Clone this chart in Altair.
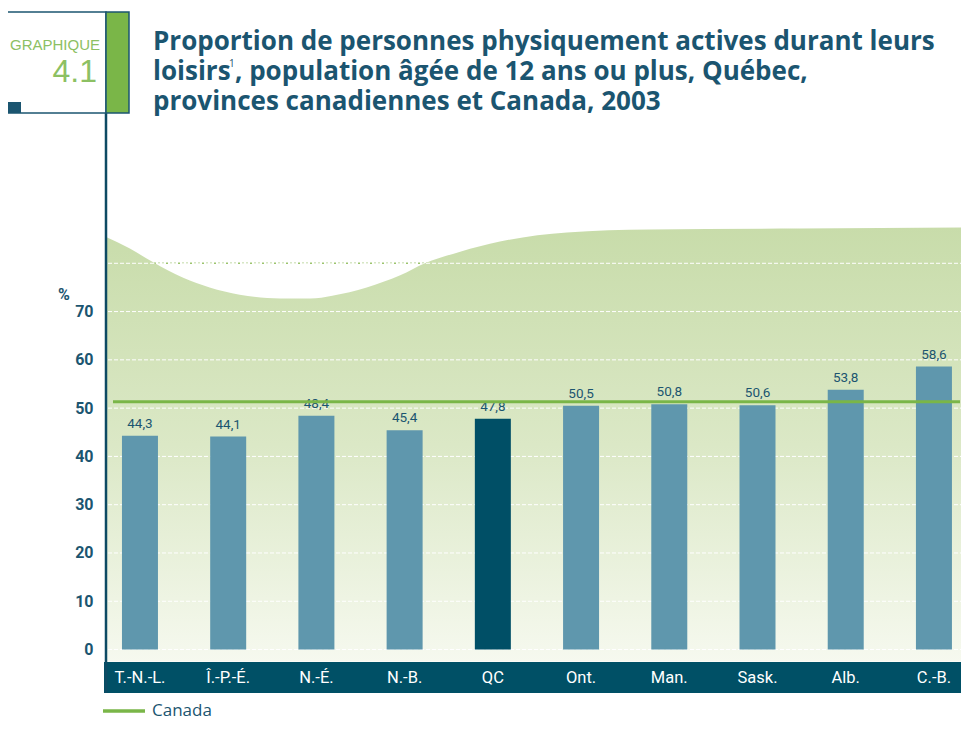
import altair as alt
import pandas as pd

# ---- data ----
provinces = ["T.-N.-L.", "Î.-P.-É.", "N.-É.", "N.-B.", "QC", "Ont.", "Man.", "Sask.", "Alb.", "C.-B."]
values = [44.3, 44.1, 48.4, 45.4, 47.8, 50.5, 50.8, 50.6, 53.8, 58.6]
canada = 51.3
y_ticks = [0, 10, 20, 30, 40, 50, 60, 70]
grid_values = [0, 10, 20, 30, 40, 50, 60, 70, 80]
# decorative wave at top of background (position along category axis, value)
wave_x = [-0.39, -0.12, 0.15, 0.49, 0.79, 1.13, 1.59, 1.93, 2.18, 2.57, 2.95, 3.23, 3.63, 4.08, 4.84, 5.78, 7.48, 9.39]
wave_y = [85.5, 83.1, 80.2, 77.0, 75.0, 73.5, 72.7, 72.7, 73.3, 75.0, 77.5, 80.0, 82.4, 84.5, 86.4, 87.0, 87.2, 87.4]

TEAL = "#1b5570"
DARK = "#004f66"
BAR = "#5f97ad"
GREEN = "#7ab648"
NARROW = "Roboto"
STEP = 88.22
W, H = 855, 478
X0 = -0.385

df = pd.DataFrame({
    "province": provinces,
    "idx": list(range(len(provinces))),
    "v": values,
    "label": [f"{v:.1f}".replace(".", ",") for v in values],
})
wave = pd.DataFrame({"idx": wave_x, "v": wave_y})
grid = pd.DataFrame({"v": grid_values})

yscale = alt.Scale(domain=[-9, 90], nice=False, zero=False, padding=0)
yaxis = alt.Axis(values=y_ticks, title=None, domain=False, ticks=False, grid=False,
                 labelFont=NARROW, labelFontSize=16, labelFontWeight="bold",
                 labelColor=TEAL, labelPadding=13)
Y = alt.Y("v:Q", scale=yscale, axis=yaxis)
X = alt.X("idx:Q", title=None, axis=None,
          scale=alt.Scale(domain=[X0, X0 + W / STEP], nice=False, zero=False, padding=0))

one = pd.DataFrame({"a": [0]})

def txt(x, y, s, **kw):
    return alt.Chart(pd.DataFrame({"t": [s]})).mark_text(**kw).encode(
        x=alt.value(x), y=alt.value(y), text="t:N")

def box(x, x2, y, y2, **kw):
    return alt.Chart(one).mark_rect(**kw).encode(
        x=alt.value(x), x2=alt.value(x2), y=alt.value(y), y2=alt.value(y2))

rule80 = alt.Chart(pd.DataFrame({"v": [80]})).mark_rule(
    color="#9cc46e", strokeDash=[2, 2], strokeWidth=1.5).encode(
    y=Y, x=alt.value(0), x2=alt.value(W))

area = alt.Chart(wave).mark_area(
    color=alt.Gradient(
        gradient="linear",
        stops=[alt.GradientStop(color="#c8dcaa", offset=0),
               alt.GradientStop(color="#dbe8c6", offset=0.5),
               alt.GradientStop(color="#f6f9ef", offset=1)],
        x1=0, x2=0, y1=0, y2=1),
    interpolate="monotone").encode(x=X, y=Y, y2=alt.datum(-2.5))

gridlines = alt.Chart(grid).mark_rule(color="white", strokeDash=[4, 2], strokeWidth=1).encode(
    y=Y, x=alt.value(2), x2=alt.value(W))

band = box(-2, W, 447, 478, color="#005066")

bars = alt.Chart(df).mark_bar(size=36).encode(
    x=X, y=Y, y2=alt.datum(0),
    color=alt.condition(alt.datum.province == "QC", alt.value(DARK), alt.value(BAR)))

vlabels = alt.Chart(df).mark_text(baseline="bottom", dy=-5, font=NARROW, fontSize=13.5,
                                  color=TEAL).encode(x=X, y=Y, text="label:N")

canada_line = alt.Chart(pd.DataFrame({"v": [canada]})).mark_rule(
    color=GREEN, strokeWidth=3).encode(y=Y, x=alt.value(7), x2=alt.value(854))

xlabels = alt.Chart(df).mark_text(baseline="middle", font=NARROW, fontSize=16.5,
                                  color="white").encode(x=X, y=alt.value(463), text="province:N")

vline = alt.Chart(one).mark_rule(color="#0d4a63", strokeWidth=2.5).encode(
    x=alt.value(0), y=alt.value(-203), y2=alt.value(478))
hbox = box(-99, 0, -203, -102, fill="white", stroke=TEAL, strokeWidth=1.5)
gbox = box(0, 23, -203, -102, fill=GREEN, stroke=TEAL, strokeWidth=1.5)
sq = box(-99, -85, -113, -102, color=TEAL)
graphique = txt(-6, -170, "GRAPHIQUE", align="right", baseline="middle",
                font="Liberation Sans", fontSize=15, color="#8cc063")
num = txt(-9, -143, "4.1", align="right", baseline="middle",
          font="Liberation Sans", fontSize=32, color="#8cc063")

tkw = dict(align="left", baseline="alphabetic", font="Open Sans", fontSize=26,
           fontWeight="bold", color=TEAL)
t1 = txt(47, -165, "Proportion de personnes physiquement actives durant leurs", **tkw)
t2a = txt(47, -135, "loisirs", **tkw)
t2s = txt(123, -148, "1", align="left", baseline="alphabetic", font="Open Sans",
          fontSize=10, color=TEAL)
t2b = txt(129, -135, ", population âgée de 12 ans ou plus, Québec,", **tkw)
t3 = txt(47, -105, "provinces canadiennes et Canada, 2003", **tkw)

pct = txt(-42, 80, "%", align="center", baseline="middle", font=NARROW,
          fontSize=16, fontWeight="bold", color=TEAL)

leg_line = alt.Chart(one).mark_rule(color=GREEN, strokeWidth=3.5).encode(
    x=alt.value(-3), x2=alt.value(39), y=alt.value(496))
leg_text = txt(46, 496, "Canada", align="left", baseline="middle", font="Open Sans",
               fontSize=17, color=TEAL)

chart = alt.layer(
    rule80, area, gridlines, band, bars, vlabels, canada_line, xlabels,
    vline, hbox, gbox, sq, graphique, num, t1, t2a, t2s, t2b, t3, pct,
    leg_line, leg_text,
).properties(
    width=W, height=H,
    padding={"left": 98, "top": 207, "right": 0, "bottom": 28},
    autosize=alt.AutoSizeParams(type="none"),
    background="white",
).configure_view(stroke=None, strokeWidth=0)

chart.save("out.html", embed_options={"renderer": "svg", "actions": False})
